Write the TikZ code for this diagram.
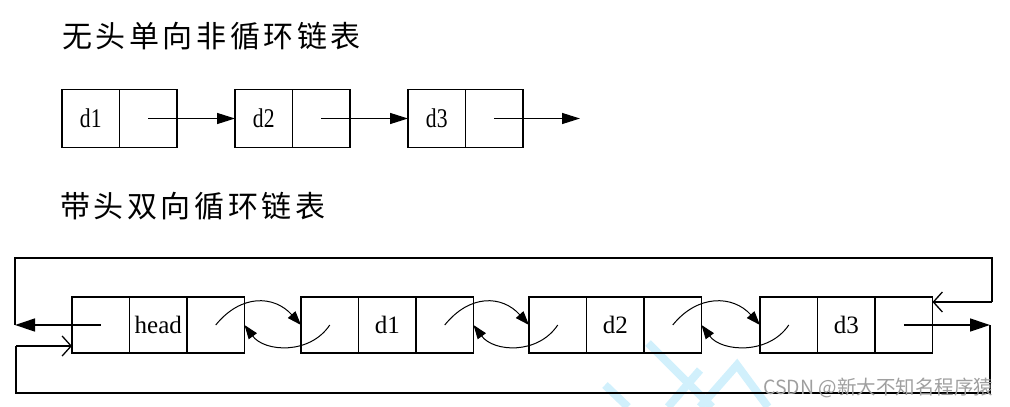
\documentclass[tikz,border=0pt]{standalone}
\usepackage{fontspec}
\setmainfont{Liberation Serif}
\newfontfamily\cjk[LetterSpace=12]{Noto Sans CJK SC}
\newfontfamily\cjkmark{Noto Sans CJK SC}
\newfontfamily\narrowserif[FakeStretch=0.8]{Liberation Serif}
\usetikzlibrary{positioning, arrows.meta}

\tikzset{
  cell/.style={draw, line width=1.3pt, minimum width=57.5pt, minimum height=56pt,
    inner sep=0pt, outer sep=0pt},
  topcell/.style={cell, minimum height=58pt, font=\narrowserif\fontsize{27}{27}\selectfont},
  botcell/.style={cell, font=\fontsize{25}{25}\selectfont},
  plain/.style={line width=1.3pt},
  link/.style={plain, -{Triangle[length=18pt,width=11pt]}},
  bigtip/.style={plain, -{Triangle[length=20pt,width=13pt]}},
  turn/.style={line width=1pt, -{Triangle[length=14pt,width=10pt]}},
  wrap/.style={plain, -{Straight Barb[length=9pt,width=20pt]}}
}

\begin{document}
\begin{tikzpicture}[x=1pt, y=-1pt]
    \useasboundingbox (0,0) rectangle (1010,407);

    % watermark strokes
    \draw[line width=8pt, cyan!18] (605,385) -- (628,407);
    \draw[line width=8pt, cyan!18] (648,343) -- (712,407);
    \draw[line width=8pt, cyan!18] (668,407) -- (700,370);
    \draw[line width=8pt, cyan!18] (700,407) -- (737,365) -- (768,407);

    % titles
    \node[anchor=west, inner sep=0pt, font=\cjk\fontsize{30}{30}\selectfont] (title1) at (62,36.5) {无头单向非循环链表};
    \node[anchor=west, inner sep=0pt, font=\cjk\fontsize{30}{30}\selectfont] (title2) at (60,206) {带头双向循环链表};

    % singly linked list
    \node[topcell] (p1) at (90.75,118.5) {d1};
    \node[topcell, right=0pt of p1] (q1) {};
    \node[topcell] (p2) at (263.75,118.5) {d2};
    \node[topcell, right=0pt of p2] (q2) {};
    \node[topcell] (p3) at (436.75,118.5) {d3};
    \node[topcell, right=0pt of p3] (q3) {};
    \coordinate (nil) at (580,118.5);

    \draw[link] (q1.center) -- (p2.west);
    \draw[link] (q2.center) -- (p3.west);
    \draw[link] (q3.center) -- (nil);

    % doubly linked circular list
    \node[botcell] (h0) at (100.75,325) {};
    \node[botcell, right=0pt of h0] (h1) {head};
    \node[botcell, right=0pt of h1] (h2) {};
    \node[botcell] (a0) at (329.75,325) {};
    \node[botcell, right=0pt of a0] (a1) {d1};
    \node[botcell, right=0pt of a1] (a2) {};
    \node[botcell] (b0) at (557.75,325) {};
    \node[botcell, right=0pt of b0] (b1) {d2};
    \node[botcell, right=0pt of b1] (b2) {};
    \node[botcell] (c0) at (788.75,325) {};
    \node[botcell, right=0pt of c0] (c1) {d3};
    \node[botcell, right=0pt of c1] (c2) {};

    \foreach \l/\r in {h/a, a/b, b/c} {
        \draw[turn] (\l2.center) .. controls +(25,-31) and +(-27,-30) .. (\r0.west);
        \draw[turn] (\r0.center) .. controls +(-20,30) and +(20,27) .. (\l2.east);
    }

    % wrap-around pointers
    \coordinate (wl) at (15,325);
    \coordinate (tr) at (992,258);
    \coordinate (ur) at (992,302);
    \coordinate (er) at (990,325);
    \coordinate (br) at (16,393);
    \coordinate (bl) at (16,346);

    \draw[bigtip] (h0.center) -- (wl);
    \draw[plain] (wl) |- (tr) -- (ur);
    \draw[wrap] (ur) -- (ur -| c2.east);

    \draw[bigtip] (c2.center) -- (er);
    \draw[plain] (er) |- (br) -- (bl);
    \draw[wrap] (bl) -- (bl -| h0.west);

    \node[anchor=west, inner sep=0pt, text=gray!75, font=\cjkmark\fontsize{19.5}{19.5}\selectfont] (mark) at (763,388) {CSDN @新大不知名程序猿};

\end{tikzpicture}
\end{document}
